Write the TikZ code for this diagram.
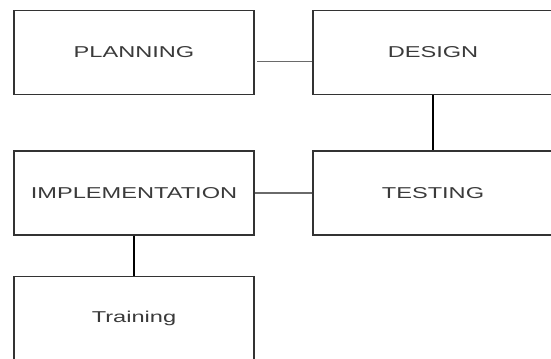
\documentclass[tikz,border=0pt]{standalone}
\usepackage{fontspec}
\usepackage{graphicx}
\setmainfont{Liberation Sans}
\usetikzlibrary{positioning}
\definecolor{boxline}{HTML}{333333}
\definecolor{boxtext}{HTML}{3a3a3a}
\definecolor{hline}{HTML}{6a6a6a}
\newcommand{\widetext}[1]{\scalebox{1.5}[1]{#1}}
\tikzset{%
  phase/.style={rectangle,draw=boxline,line width=1pt,minimum width=180pt,minimum height=63pt,
    inner sep=0pt,text=boxtext,font=\fontsize{11.8pt}{14pt}\selectfont},
  link/.style={draw=hline,line width=0.8pt},
  drop/.style={draw=black,line width=0.9pt},
}

\begin{document}
\begin{tikzpicture}[x=0.75pt,y=-0.75pt]
      \useasboundingbox (0,0) rectangle (551,358);

      \node[phase] (planning) at (134,52.5) {\widetext{PLANNING}};
      \node[phase] (design) at (433,52.5) {\widetext{DESIGN}};

      \node[phase] (implementation) at (134,193) {\widetext{IMPLEMENTATION}};
      \node[phase] (testing) at (433,193) {\widetext{TESTING}};

      \node[phase] (training) at (134,318.5) {\widetext{Training}};

      \draw[link] ([xshift=2pt,yshift=-6.9pt]planning.east) -- ([yshift=-6.9pt]design.west);
      \draw[drop] (design) -- (testing);
      \draw[link] (testing) -- (implementation);
      \draw[drop] (implementation) -- (training);
    \end{tikzpicture}
\end{document}
